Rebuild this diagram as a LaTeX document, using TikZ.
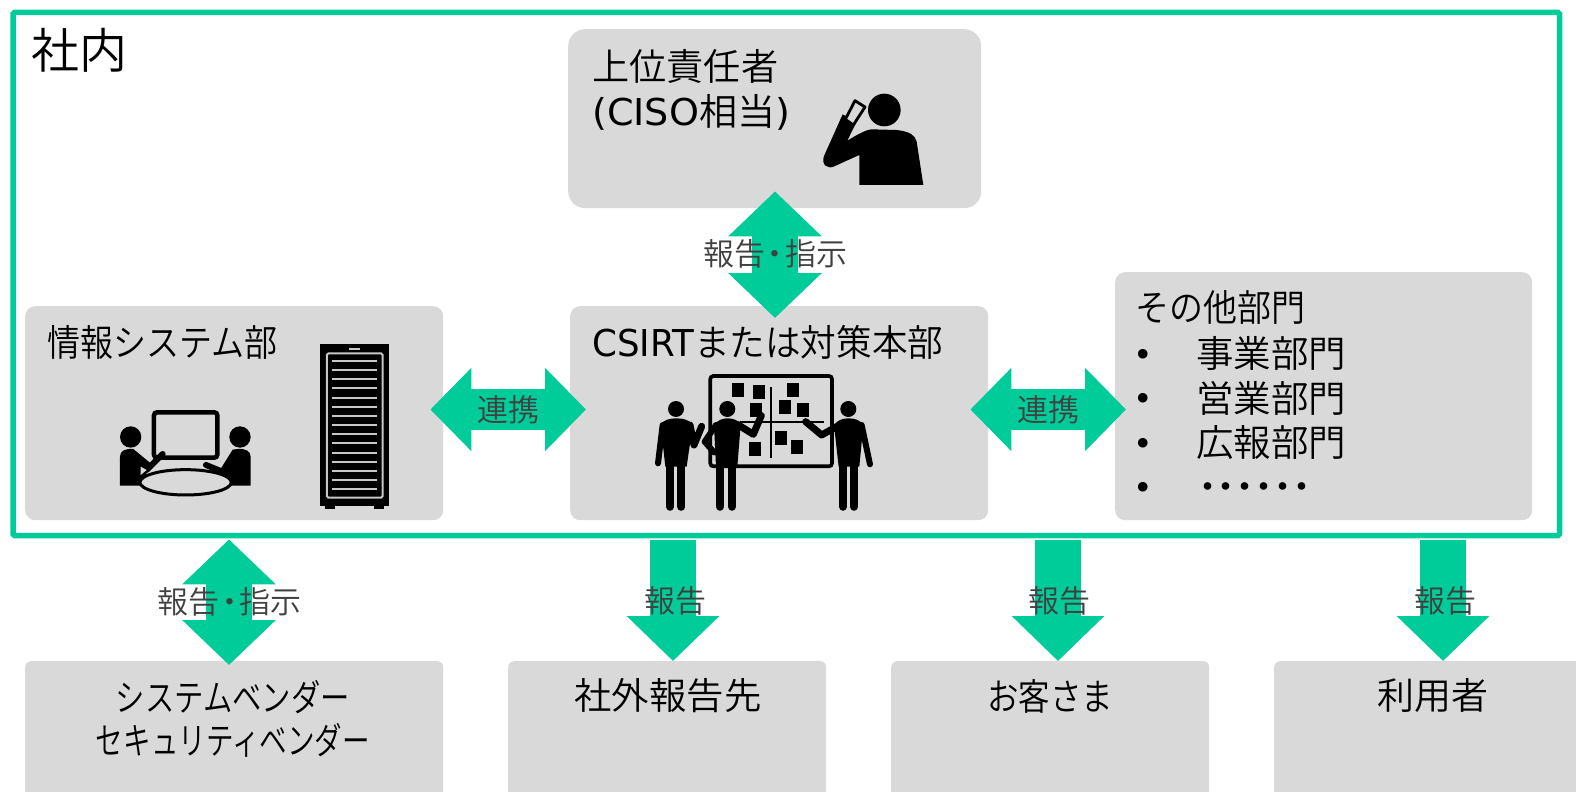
\documentclass[tikz,border=0pt]{standalone}
\usepackage{fontspec}
\usepackage{graphicx}
\setmainfont{Noto Sans CJK JP}[UprightFont=* DemiLight]
\newfontfamily\latf{DejaVu Sans}
\usetikzlibrary{arrows.meta,calc}
\definecolor{grn}{HTML}{00CC99}
\definecolor{gbox}{HTML}{D9D9D9}
\definecolor{lbl}{HTML}{404040}
\definecolor{slat}{HTML}{C8C8C8}
\newcommand\fitw[2]{\resizebox{#1pt}{\height}{#2}}
\newcommand\sz[1]{\fontsize{#1}{#1}\selectfont}
\newcommand\dt{\makebox[18.8pt]{・}}
\newcommand\rptlabel{報告\makebox[20pt]{・}指示}
\tikzset{
  graybox/.style={fill=gbox,draw=none,inner sep=0pt,anchor=north west},
  txt/.style={inner sep=0pt,anchor=west,font=\sz{37},text=black},
  ctxt/.style={inner sep=0pt,anchor=center,font=\sz{37},text=black},
  lab/.style={inner sep=0pt,anchor=center,font=\sz{31},text=lbl},
  dblarrow/.style={draw=grn,line cap=butt,line width=46pt,{Triangle[length=45pt,width=91pt,fill=grn]}-{Triangle[length=45pt,width=91pt,fill=grn]}},
  harrow/.style={draw=grn,line cap=butt,line width=41pt,{Triangle[length=41pt,width=81pt,fill=grn]}-{Triangle[length=41pt,width=81pt,fill=grn]}},
  downarrow/.style={draw=grn,line cap=butt,line width=46pt,-{Triangle[length=45pt,width=90pt,fill=grn]}},
  ink/.style={fill=black,draw=none},
  limb/.style={draw=black,line cap=round,line join=round},
}
\begin{document}
\begin{tikzpicture}[x=1pt,y=-1pt]
\clip (0,0) rectangle (1576,792);
\fill[white] (0,0) rectangle (1576,792);
% frame
\draw[grn,line width=5.5pt,rounded corners=1.5pt] (13,12.5) rectangle (1559.5,535.5);
% boxes
\node[graybox,minimum width=413pt,minimum height=179pt,rounded corners=17pt] (chief) at (568,29) {};
\node[graybox,minimum width=418pt,minimum height=214pt,rounded corners=10pt] (infosys) at (25,306) {};
\node[graybox,minimum width=418pt,minimum height=214pt,rounded corners=10pt] (csirt) at (570,306) {};
\node[graybox,minimum width=417pt,minimum height=248pt,rounded corners=10pt] (other) at (1115,272) {};
\node[graybox,minimum width=418pt,minimum height=160pt,rounded corners=6pt] (vendor) at (25,661) {};
\node[graybox,minimum width=318pt,minimum height=160pt,rounded corners=6pt] (ext) at (508,661) {};
\node[graybox,minimum width=318pt,minimum height=160pt,rounded corners=6pt] (cust) at (891,661) {};
\node[graybox,minimum width=340pt,minimum height=160pt,rounded corners=6pt] (user) at (1274,661) {};
% helper coordinates
\coordinate (rowA) at (0,409.5);
\coordinate (colA) at (775,0);
\coordinate (colB) at (229,0);
\coordinate (colC) at (673,0);
\coordinate (colD) at (1058,0);
\coordinate (colE) at (1443,0);
% connectors
\draw[dblarrow,shorten <=-17pt,shorten >=-12pt] (colA |- chief.south) -- (colA |- csirt.north);
\draw[harrow,shorten <=-13pt,shorten >=-16pt] (infosys.east |- rowA) -- (csirt.west |- rowA);
\draw[harrow,shorten <=-18pt,shorten >=-11pt] (csirt.east |- rowA) -- (other.west |- rowA);
\draw[dblarrow,shorten <=19pt,shorten >=-4pt] (colB |- infosys.south) -- (colB |- vendor.north);
\draw[downarrow,shorten <=20pt] (colC |- csirt.south) -- (colC |- ext.north);
\draw[downarrow,shorten <=20pt] (colD |- csirt.south) -- (colD |- cust.north);
\draw[downarrow,shorten <=20pt] (colE |- csirt.south) -- (colE |- user.north);
% texts
\node[txt,font=\sz{48}] (tInside) at (31,50) {社内};
\node[txt] (tChiefA) at (592,66) {\fitw{186}{上位責任者}};
\node[txt] (tChiefB) at (592,112) {\fitw{198}{{\latf (CISO}相当{\latf )}}};
\node[txt] (tInfo) at (47,342) {\fitw{230}{情報システム部}};
\node[txt] (tCsirt) at (592,342) {\fitw{351}{{\latf CSIRT}または対策本部}};
\node[txt] (tOther) at (1135,307) {\fitw{170}{その他部門}};
\node[txt] (tB1) at (1196,353) {\fitw{150}{事業部門}};
\node[txt] (tB2) at (1196,398) {\fitw{150}{営業部門}};
\node[txt] (tB3) at (1196,443) {\fitw{150}{広報部門}};
\node[txt] (tB4) at (1198,492) {\dt\dt\dt\dt\dt\dt};
\foreach \n/\yy in {a/358,b/402,c/447,d/491}{
  \node[txt,anchor=center,font={\latf\sz{33}}] (bul\n) at (1143,\yy) {•};
}
\node[ctxt] (tVendA) at (233,697) {\fitw{234}{システムベンダー}};
\node[ctxt] (tVendB) at (233,740) {\fitw{274}{セキュリティベンダー}};
\node[ctxt] (tExt) at (668,696) {\fitw{187}{社外報告先}};
\node[ctxt] (tCust) at (1050,696) {\fitw{126}{お客さま}};
\node[ctxt] (tUser) at (1433,696) {\fitw{111}{利用者}};
\node[lab] (lRep1) at (775,254) {\rptlabel};
\node[lab] (lRep2) at (229.5,602) {\rptlabel};
\node[lab] (lLink1) at (508,410) {連携};
\node[lab] (lLink2) at (1048,410) {連携};
\node[lab] (lR1) at (675.5,601) {報告};
\node[lab] (lR2) at (1059.5,601) {報告};
\node[lab] (lR3) at (1445.5,601) {報告};
% --- icon: person on phone
\begin{scope}[shift={(800,80)},x=.3333pt,y=-.3333pt]
\fill[black] (253,90) circle[radius=49];
\fill[black] (178,315) -- (370,315) -- (350,185) .. controls (345,165) and (330,155) .. (290,150)
  -- (215,148) .. controls (195,150) and (170,165) .. (142,182) -- (170,125) -- (128,103)
  -- (72,228) .. controls (62,255) and (85,270) .. (105,258) -- (178,225) -- cycle;
\draw[black,fill=gbox,line width=2.8pt,line join=round] (165,62) -- (195,81) -- (160,135) -- (136,118) -- cycle;
\end{scope}
% --- icon: meeting + server
\begin{scope}[shift={(100,335)},x=.3333pt,y=-.3333pt]
\draw[black,line width=4.5pt,rounded corners=3pt] (162,232) rectangle (352,368);
\fill[black] (92,306) circle[radius=32];
\fill[black] (420,306) circle[radius=32];
\fill[black] (60,452) -- (60,365) .. controls (60,348) and (75,340) .. (100,342) -- (152,385) -- (125,452) -- cycle;
\fill[black] (452,452) -- (452,365) .. controls (452,348) and (437,340) .. (412,342) -- (398,344) -- (358,408) -- (385,425) -- (385,452) -- cycle;
\draw[limb,line width=6pt] (140,405) -- (188,357);
\draw[limb,line width=6pt] (318,390) -- (372,412);
\fill[gbox] (122,395) -- (122,420) -- (140,405) -- cycle;
\draw[black,fill=gbox,line width=3pt] (257,442) ellipse[x radius=137,y radius=38];
% server
\fill[black] (660,27) rectangle (867,514);
\fill[black] (675,514) rectangle (705,522);
\fill[black] (822,514) rectangle (852,522);
\fill[slat] (747,38) rectangle (780,46);
\draw[slat,line width=2pt,rounded corners=1.5pt] (681,55) rectangle (848,488);
\foreach \i in {0,...,14}{
  \fill[slat] (695,75+\i*27.5) rectangle (830,81+\i*27.5);
}
\end{scope}
% --- icon: board with people
\begin{scope}[shift={(640,365)},x=.3333pt,y=-.3333pt]
\draw[black,line width=3.7pt,rounded corners=3pt] (211,33) rectangle (576,304);
\draw[black,line width=2.2pt] (393,65) -- (393,278);
\draw[black,line width=2.2pt] (300,171) -- (553,171);
\foreach \ax/\ay in {276/54,339/60,441/54,417/105,471/114,329/115,405/198,453/225,327/231}{
  \fill[black] (\ax,\ay) rectangle ++(36,42);
}
% person 1
\fill[black] (108,132) circle[radius=24];
\fill[black] (62,180) .. controls (70,164) and (90,160) .. (108,160) .. controls (130,160) and (148,164) .. (158,180) -- (140,305) -- (76,305) -- cycle;
\draw[limb,line width=8.3pt] (90,295) -- (90,425);
\draw[limb,line width=8.3pt] (124,295) -- (124,425);
\draw[limb,line width=6pt] (68,180) -- (54,295);
\draw[limb,line width=7pt] (150,180) -- (162,240) -- (185,184);
% person 2
\fill[black] (262,132) circle[radius=24];
\fill[black] (222,180) .. controls (232,165) and (250,160) .. (262,160) .. controls (280,160) and (295,165) .. (302,180) -- (292,305) -- (228,305) -- cycle;
\draw[limb,line width=8.3pt] (240,300) -- (240,425);
\draw[limb,line width=8.3pt] (276,300) -- (276,425);
\draw[limb,line width=6pt] (228,180) -- (194,230) -- (222,262);
\draw[limb,line width=7pt] (292,178) -- (340,208) -- (364,152);
% person 3
\fill[black] (625,132) circle[radius=24];
\fill[black] (582,180) .. controls (592,165) and (610,160) .. (625,160) .. controls (645,160) and (660,165) .. (670,180) -- (658,305) -- (596,305) -- cycle;
\draw[limb,line width=8.3pt] (609,295) -- (609,425);
\draw[limb,line width=8.3pt] (642,295) -- (642,425);
\draw[limb,line width=7pt] (590,185) -- (545,210) -- (497,170);
\draw[limb,line width=6pt] (665,180) -- (690,298);
\end{scope}
\end{tikzpicture}
\end{document}
